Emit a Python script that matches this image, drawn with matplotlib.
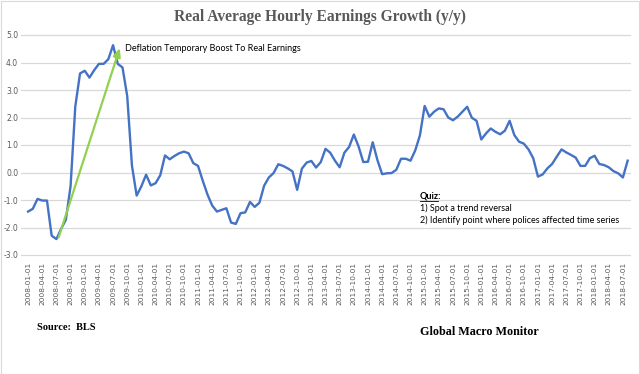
import matplotlib
matplotlib.use("Agg")
import matplotlib.pyplot as plt
from matplotlib.patches import Rectangle
import pandas as pd
import numpy as np

# Monthly real average hourly earnings growth (y/y, %), 2008-01 .. 2018-08
months = pd.date_range("2008-01-01", periods=128, freq="MS")
values = [
    -1.42, -1.32, -0.96, -1.02, -1.02, -2.30, -2.42, -2.05, -1.72, -0.50,
    2.40, 3.60, 3.70, 3.45, 3.72, 3.95, 3.95, 4.12, 4.63, 3.95,
    3.82, 2.78, 0.25, -0.84, -0.50, -0.08, -0.47, -0.39, -0.10, 0.62,
    0.48, 0.60, 0.70, 0.76, 0.70, 0.34, 0.24, -0.30, -0.80, -1.20,
    -1.42, -1.36, -1.30, -1.82, -1.87, -1.48, -1.45, -1.07, -1.25, -1.10,
    -0.48, -0.18, -0.02, 0.30, 0.24, 0.15, 0.04, -0.63, 0.14, 0.36,
    0.42, 0.18, 0.38, 0.86, 0.72, 0.43, 0.19, 0.72, 0.93, 1.38,
    0.95, 0.38, 0.39, 1.10, 0.45, -0.06, -0.03, -0.02, 0.10, 0.50,
    0.50, 0.43, 0.80, 1.35, 2.42, 2.03, 2.21, 2.33, 2.30, 2.00,
    1.90, 2.03, 2.21, 2.39, 1.99, 1.88, 1.20, 1.42, 1.60, 1.48,
    1.39, 1.52, 1.88, 1.36, 1.12, 1.05, 0.84, 0.52, -0.15, -0.07,
    0.15, 0.31, 0.58, 0.84, 0.73, 0.64, 0.54, 0.24, 0.24, 0.52,
    0.61, 0.31, 0.27, 0.19, 0.05, -0.03, -0.18, 0.43,
]
tick_labels = [d.strftime("%Y-%m-%d") for d in pd.date_range("2008-01-01", "2018-07-01", freq="QS")]
y_ticks = [5.0, 4.0, 3.0, 2.0, 1.0, 0.0, -1.0, -2.0, -3.0]

title = "Real Average Hourly Earnings Growth (y/y)"
arrow_text = "Deflation Temporary Boost To Real Earnings"
arrow_start = (6.3, -2.45)   # (month index, value)
arrow_end = (19.6, 4.62)
quiz_lines = ["1) Spot a trend reversal", "2) Identify point where polices affected time series"]

fig = plt.figure(figsize=(6.4, 3.74), dpi=100)
ax = fig.add_axes([21/640, 1-255/374, (630-21)/640, (255-35)/374])

x = np.arange(len(values))
ax.set_xlim(-1.5, 127.5)
ax.set_ylim(-3.0, 5.0)

for yv in y_ticks:
    ax.axhline(yv, color="#D9D9D9", lw=0.9, zorder=0, clip_on=False)

ax.plot(x, values, color="#4472C4", lw=1.7, zorder=3, solid_joinstyle="round")

for s in ax.spines.values():
    s.set_visible(False)

ax.set_yticks(y_ticks)
ax.set_yticklabels([f"{v:.1f}" for v in y_ticks], fontsize=5.5, color="#595959", family="DejaVu Sans")
tick_pos = [months.get_loc(pd.Timestamp(t)) for t in tick_labels]
ax.set_xticks(tick_pos)
ax.set_xticklabels(tick_labels, rotation=90, fontsize=5.3, color="#595959", family="DejaVu Sans", va="top")
ax.tick_params(axis="both", length=0)
ax.tick_params(axis="x", pad=5)
ax.tick_params(axis="y", pad=2)

ax.annotate("", xy=arrow_end, xytext=arrow_start,
            arrowprops=dict(arrowstyle="-|>,head_length=0.5,head_width=0.22", color="#92D050", lw=1.6),
            zorder=4)
ax.text(arrow_end[0] + 0.9, 4.52, arrow_text, fontsize=6.5, family="Lato", color="#000000", va="center", ha="left")

# Quiz box text
qx = 420/640
fig.text(qx, 1-196/374, "Quiz:", fontsize=6.6, family="Lato", weight="bold", va="center", ha="left")
fig.add_artist(plt.Line2D([qx, qx + 18/640], [1-200.5/374, 1-200.5/374], color="black", lw=0.6))
fig.text(qx, 1-208/374, quiz_lines[0], fontsize=6.45, family="Lato", va="center", ha="left")
fig.text(qx, 1-220/374, quiz_lines[1], fontsize=6.45, family="Lato", va="center", ha="left")

fig.text(0.5, 1-17/374, title, fontsize=11.2, family="Liberation Serif", weight="bold",
         color="#595959", ha="center", va="center")
fig.text(37/640, 1-327/374, "Source:  BLS", fontsize=7.5, family="Liberation Serif", weight="bold",
         ha="left", va="center")
fig.text(479/640, 1-332/374, "Global Macro Monitor", fontsize=8.7, family="Liberation Serif", weight="bold",
         ha="center", va="center")

fig.add_artist(Rectangle((0.5/640, 0.5/374), 1-1.5/640, 1-1.5/374, transform=fig.transFigure,
                         fill=False, edgecolor="#D9D9D9", lw=0.8))

fig.savefig("out.png", dpi=100)
